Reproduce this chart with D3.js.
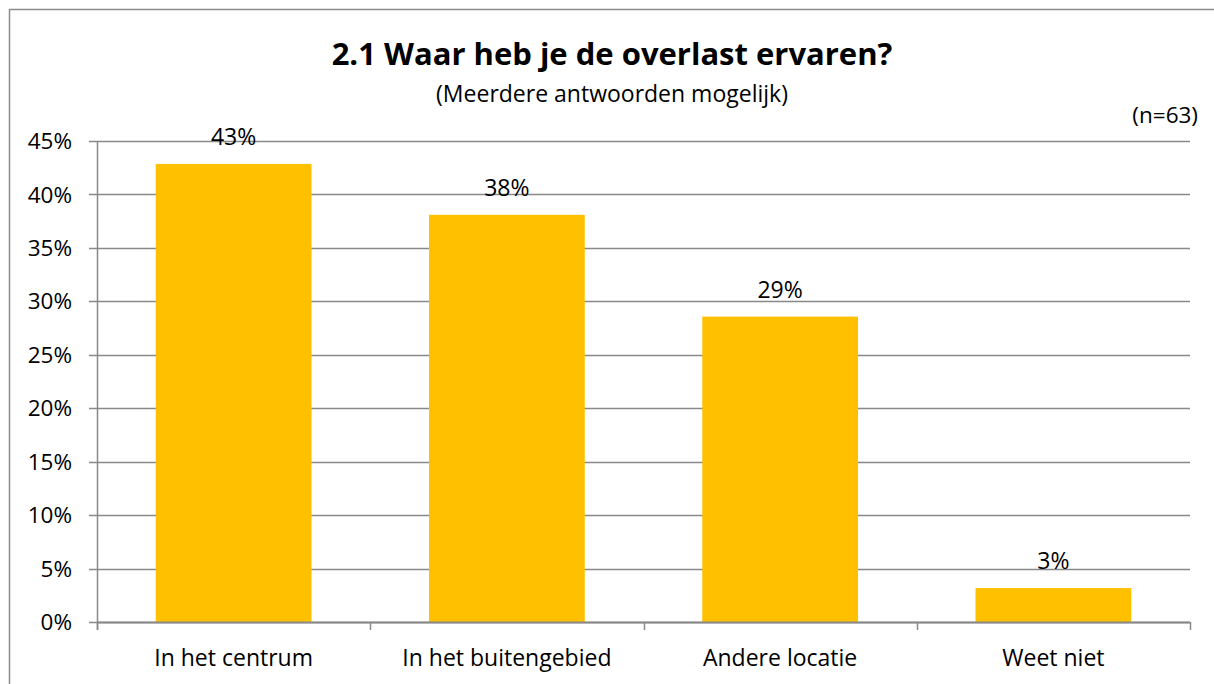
<!DOCTYPE html>
<html>
<head>
<meta charset="utf-8">
<script src="https://cdn.jsdelivr.net/npm/d3@7"></script>
<style>
  html, body { margin: 0; padding: 0; background: #fff; }
  svg { display: block; font-family: "Open Sans", sans-serif; }
</style>
</head>
<body>
<div id="chart"></div>
<script>
// data (n=63)
const categories = ["In het centrum", "In het buitengebied", "Andere locatie", "Weet niet"];
const shares = [27 / 63, 24 / 63, 18 / 63, 2 / 63];
const valueLabels = ["43%", "38%", "29%", "3%"];
const yTicks = [0, 0.05, 0.1, 0.15, 0.2, 0.25, 0.3, 0.35, 0.4, 0.45];

const title = "2.1 Waar heb je de overlast ervaren?";
const subtitle = "(Meerdere antwoorden mogelijk)";
const nLabel = "(n=63)";

const width = 1214, height = 684;
const plotLeft = 97, plotRight = 1190, plotTop = 141, plotBottom = 622;
const gridColor = "#898989";
const barColor = "#FFC000";

const svg = d3.select("#chart").append("svg")
  .attr("width", width)
  .attr("height", height);

svg.append("rect")
  .attr("x", 9.5).attr("y", 9.5)
  .attr("width", 1230).attr("height", 700)
  .attr("fill", "#fff")
  .attr("stroke", "#8c8c8c")
  .attr("stroke-width", 1.5);

const x = d3.scaleBand()
  .domain(categories)
  .range([plotLeft, plotRight])
  .paddingInner(0.43)
  .paddingOuter(0.215);

const y = d3.scaleLinear()
  .domain([0, 0.45])
  .range([plotBottom, plotTop]);

// gridlines
svg.append("g")
  .selectAll("line")
  .data(yTicks)
  .join("line")
  .attr("x1", plotLeft - 8).attr("x2", plotRight)
  .attr("y1", d => Math.round(y(d)) + 0.5)
  .attr("y2", d => Math.round(y(d)) + 0.5)
  .attr("stroke", gridColor)
  .attr("stroke-width", 1.5);

// y axis labels
svg.append("g")
  .selectAll("text")
  .data(yTicks)
  .join("text")
  .attr("x", 72)
  .attr("y", d => y(d))
  .attr("dy", "0.36em")
  .attr("text-anchor", "end")
  .attr("font-size", 22.5)
  .attr("fill", "#000")
  .text(d3.format(".0%"));

// bars
svg.append("g")
  .selectAll("rect")
  .data(categories)
  .join("rect")
  .attr("x", d => x(d))
  .attr("width", x.bandwidth())
  .attr("y", (d, i) => y(shares[i]))
  .attr("height", (d, i) => y(0) - y(shares[i]))
  .attr("fill", barColor);

// axes lines
svg.append("line")
  .attr("x1", plotLeft + 0.5).attr("x2", plotLeft + 0.5)
  .attr("y1", plotTop).attr("y2", plotBottom + 8)
  .attr("stroke", gridColor).attr("stroke-width", 1.5);

svg.append("line")
  .attr("x1", plotLeft).attr("x2", plotRight)
  .attr("y1", plotBottom + 0.5).attr("y2", plotBottom + 0.5)
  .attr("stroke", gridColor).attr("stroke-width", 2);

// category boundary ticks
const step = x.step();
const bounds = d3.range(categories.length + 1).map(i => plotLeft + i * step);
svg.append("g")
  .selectAll("line")
  .data(bounds)
  .join("line")
  .attr("x1", d => Math.round(d) + 0.5).attr("x2", d => Math.round(d) + 0.5)
  .attr("y1", plotBottom).attr("y2", plotBottom + 8)
  .attr("stroke", gridColor).attr("stroke-width", 1.5);

// category labels
svg.append("g")
  .selectAll("text")
  .data(categories)
  .join("text")
  .attr("x", d => x(d) + x.bandwidth() / 2)
  .attr("y", 666)
  .attr("text-anchor", "middle")
  .attr("font-size", 23)
  .attr("fill", "#000")
  .text(d => d);

// value labels
svg.append("g")
  .selectAll("text")
  .data(categories)
  .join("text")
  .attr("x", d => x(d) + x.bandwidth() / 2)
  .attr("y", (d, i) => y(shares[i]) - 19)
  .attr("text-anchor", "middle")
  .attr("font-size", 23)
  .attr("fill", "#000")
  .text((d, i) => valueLabels[i]);

// titles
svg.append("text")
  .attr("x", 612).attr("y", 65)
  .attr("text-anchor", "middle")
  .attr("font-size", 31)
  .attr("font-weight", "bold")
  .text(title);

svg.append("text")
  .attr("x", 612).attr("y", 102)
  .attr("text-anchor", "middle")
  .attr("font-size", 23)
  .text(subtitle);

svg.append("text")
  .attr("x", 1198).attr("y", 123)
  .attr("text-anchor", "end")
  .attr("font-size", 22.5)
  .text(nLabel);
</script>
</body>
</html>
